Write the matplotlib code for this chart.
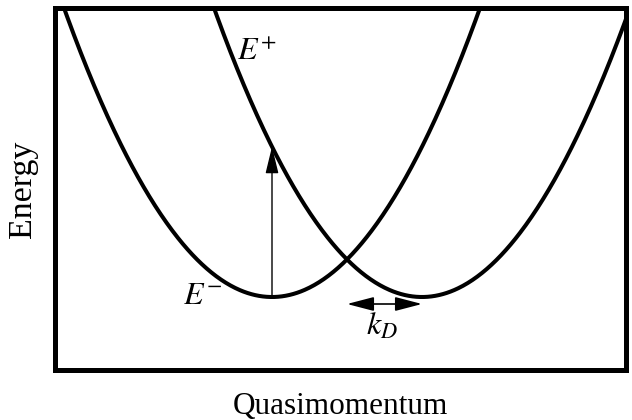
import matplotlib.pyplot as plt
import numpy as np

plt.rcParams['font.family'] = 'Liberation Serif'
plt.rcParams['mathtext.fontset'] = 'stix'

# band minima (quasimomentum, energy) and curvature, in plot units
k_min = [272, 422]
e_min = [73, 73]
curv = 0.00668
band_names = ["$E^{-}$", "$E^{+}$"]

fig = plt.figure(figsize=(6.32, 4.2), dpi=100)
ax = fig.add_axes([55/632, 50/420, 571/632, 362/420])

k = np.linspace(55, 626, 600)
for k0, e0 in zip(k_min, e_min):
    ax.plot(k, e0 + curv*(k - k0)**2, color='black', lw=2.9)

# vertical transition arrow from bottom of E- up to E+
k_arrow = k_min[0]
e_top = e_min[1] + curv*(k_arrow - k_min[1])**2
ax.annotate("", xy=(k_arrow, e_top), xytext=(k_arrow, e_min[0]),
            arrowprops=dict(arrowstyle='-|>,head_length=1.65,head_width=0.4',
                            color='black', lw=1.0, shrinkA=0, shrinkB=0))

# k_D double arrow
ax.annotate("", xy=(k_min[1], 66), xytext=(sum(k_min)/2, 66),
            arrowprops=dict(arrowstyle='<|-|>,head_length=1.65,head_width=0.43',
                            color='black', lw=1.2, shrinkA=0, shrinkB=0))

ax.text(257, 318, band_names[1], fontsize=23, ha='center', va='center')
ax.text(202, 74, band_names[0], fontsize=23, ha='center', va='center')
ax.text(382, 43, "$k_D$", fontsize=23, ha='center', va='center')

ax.set_xlim(55, 626)
ax.set_ylim(0, 362)
ax.set_xticks([])
ax.set_yticks([])
for s in ax.spines.values():
    s.set_linewidth(3.6)

ax.set_xlabel("Quasimomentum", fontsize=22.5, labelpad=16)
ax.set_ylabel("Energy", fontsize=24.5, labelpad=12)

fig.savefig("out.png", dpi=100)
